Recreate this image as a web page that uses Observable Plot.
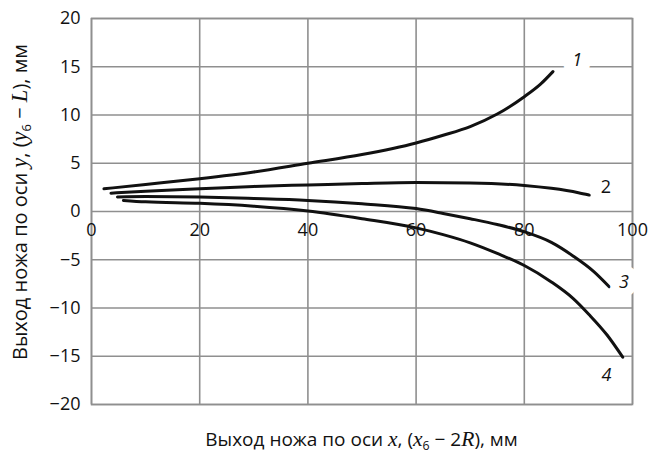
<!DOCTYPE html>
<html>
<head>
<meta charset="utf-8">
<script src="https://cdn.jsdelivr.net/npm/d3@7"></script>
<script src="https://cdn.jsdelivr.net/npm/@observablehq/plot@0.6"></script>
<style>
  html, body { margin: 0; padding: 0; background: #fff; }
  svg { font-family: "Open Sans", sans-serif; }
</style>
</head>
<body>
<div id="chart"></div>
<script>
// Curve data
const curve1 = [[2.3,2.35],[10,2.8],[20,3.4],[30,4.1],[40,5.0],[50,5.9],[60,7.1],[65,7.9],[70,8.8],[75,10.1],[80,11.9],[83,13.2],[85.3,14.5]];
const curve2 = [[3.6,1.9],[10,2.1],[20,2.35],[30,2.6],[40,2.75],[50,2.9],[60,3.0],[70,2.95],[80,2.7],[85,2.4],[90,1.95],[92,1.7]];
const curve3 = [[4.8,1.5],[10,1.55],[20,1.5],[30,1.35],[40,1.15],[50,0.8],[60,0.3],[65,-0.2],[70,-0.75],[75,-1.35],[80,-2.1],[85,-3.2],[89,-4.6],[92.8,-6.2],[95.7,-7.8]];
const curve4 = [[5.9,1.15],[10,1.0],[20,0.85],[30,0.55],[40,0.05],[50,-0.75],[60,-1.7],[65,-2.4],[70,-3.25],[75,-4.35],[80,-5.6],[85,-7.3],[89,-9.0],[92,-10.7],[95.3,-12.8],[98.2,-15.1]];

const curveIds = ["1", "2", "3", "4"];
const labelX = [89.8, 95.1, 98.4, 95.2];
const labelY = [15.7, 2.5, -7.3, -17.0];
const labelItalic = [true, false, true, true];
const labelHalo = [24, 0, 18, 0];

const xTicks = [0, 20, 40, 60, 80, 100];
const yTicks = [-20, -15, -10, -5, 0, 5, 10, 15, 20];

const series = [curve1, curve2, curve3, curve4].flatMap((c, i) =>
  c.map(([x, y]) => ({id: curveIds[i], x, y})));
const labels = curveIds.map((id, i) => ({id, x: labelX[i], y: labelY[i], italic: labelItalic[i], halo: labelHalo[i]}));

const gridColor = "#8f8f8f";
const fmt = d => d < 0 ? "\u2212" + (-d) : String(d);

const labelMarks = labels.map(d => Plot.text([d], {
  x: "x", y: "y", text: "id", fontSize: 18,
  fontStyle: d.italic ? "italic" : "normal",
  fill: "#111",
  stroke: d.halo > 0 ? "white" : "none",
  strokeWidth: d.halo
}));

const plot = Plot.plot({
  width: 662,
  height: 455,
  marginLeft: 91,
  marginRight: 30,
  marginTop: 18,
  marginBottom: 51,
  style: {fontFamily: "'Open Sans', sans-serif", background: "#fff"},
  x: {domain: [0, 100], axis: null},
  y: {domain: [-20, 20], axis: null},
  marks: [
    Plot.gridX(xTicks, {stroke: gridColor, strokeOpacity: 1, strokeWidth: 1.6}),
    Plot.gridY(yTicks, {stroke: gridColor, strokeOpacity: 1, strokeWidth: 1.6}),
    Plot.frame({stroke: gridColor, strokeWidth: 1.6}),
    Plot.axisY(yTicks, {tickSize: 0, tickPadding: 11, fontSize: 18, label: null, fill: "#111", tickFormat: fmt}),
    Plot.line(series, {x: "x", y: "y", z: "id", stroke: "#111", strokeWidth: 3, curve: "monotone-x"}),
    Plot.text(xTicks, {x: d => d, y: 0, dy: 19, text: d => String(d), fontSize: 18, fill: "#111"}),
    ...labelMarks
  ]
});

document.getElementById("chart").appendChild(plot);

// Axis titles with italic math parts
const svg = d3.select(plot);
const serif = "'Liberation Serif', 'DejaVu Serif', serif";

function richLabel(parent, parts, base) {
  parts.forEach(p => {
    const t = parent.append("tspan").text(p.t);
    if (p.i) t.attr("font-family", serif).attr("font-style", "italic").attr("font-size", base + 2.5);
    if (p.sub) t.attr("font-size", base * 0.65).attr("baseline-shift", "-30%");
  });
}

const xl = svg.append("text")
  .attr("x", (91 + 632) / 2)
  .attr("y", 446)
  .attr("text-anchor", "middle")
  .attr("font-size", 19)
  .attr("fill", "#111");
richLabel(xl, [
  {t: "Выход ножа по оси "}, {t: "x", i: true}, {t: ", ("}, {t: "x", i: true}, {t: "6", sub: true},
  {t: " − 2"}, {t: "R", i: true}, {t: "), мм"}
], 19);

const yl = svg.append("text")
  .attr("transform", `translate(27, 202) rotate(-90)`)
  .attr("text-anchor", "middle")
  .attr("font-size", 20)
  .attr("fill", "#111");
richLabel(yl, [
  {t: "Выход ножа по оси "}, {t: "y", i: true}, {t: ", ("}, {t: "y", i: true}, {t: "6", sub: true},
  {t: " − "}, {t: "L", i: true}, {t: "), мм"}
], 20);
</script>
</body>
</html>
